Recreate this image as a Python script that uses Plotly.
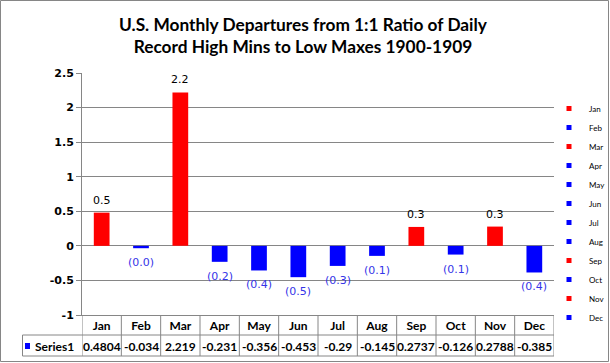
import plotly.graph_objects as go

months = ["Jan", "Feb", "Mar", "Apr", "May", "Jun", "Jul", "Aug", "Sep", "Oct", "Nov", "Dec"]
values = [0.4804, -0.034, 2.219, -0.231, -0.356, -0.453, -0.29, -0.145, 0.2737, -0.126, 0.2788, -0.385]
series_name = "Series1"
title_lines = ["U.S. Monthly Departures from 1:1 Ratio of Daily",
               "Record High Mins to Low Maxes 1900-1909"]
y_ticks = [-1, -0.5, 0, 0.5, 1, 1.5, 2, 2.5]
y_tick_text = ["-1", "-0.5", "0", "0.5", "1", "1.5", "2", "2.5"]

RED = "#FF0000"
BLUE = "#0000FF"
GRID = "#868686"
LABEL_FONT = "DejaVu Sans"
CAL = "Lato"

W, H = 610, 363
L, R, T, B = 82, 554, 73, 315


def xp(px):
    return (px - L) / (R - L)


def yp(py):
    return (B - py) / (B - T)


colors = [RED if v >= 0 else BLUE for v in values]

fig = go.Figure()
fig.add_trace(go.Bar(
    x=months, y=values, marker=dict(color=colors, line=dict(width=0)),
    showlegend=False, hoverinfo="x+y",
))

# legend entries (one per month)
for m, c in zip(months, colors):
    fig.add_trace(go.Scatter(
        x=[m], y=[None], mode="markers", name=m,
        marker=dict(symbol="square", size=5, color=c),
    ))

annotations = []
# data labels
for m, v in zip(months, values):
    if v >= 0:
        annotations.append(dict(
            x=m, y=v, xref="x", yref="y", text=f"{v:.1f}", showarrow=False,
            yanchor="bottom", yshift=4,
            font=dict(family=LABEL_FONT, size=11, color="#000000")))
    else:
        annotations.append(dict(
            x=m, y=v, xref="x", yref="y", text=f"({abs(v):.1f})", showarrow=False,
            yanchor="top", yshift=-6,
            font=dict(family=LABEL_FONT, size=11, color="#3535E8")))

# table values row
for m, v in zip(months, values):
    annotations.append(dict(
        x=m, y=yp(346), xref="x", yref="paper", text=f"<b>{v}</b>", showarrow=False,
        yanchor="middle", xanchor="center",
        font=dict(family=CAL, size=12, color="#000000")))

# series label cell
annotations.append(dict(
    x=xp(33), y=yp(346), xref="paper", yref="paper", text=f"<b>{series_name}</b>",
    showarrow=False, xanchor="left", yanchor="middle",
    font=dict(family=CAL, size=12, color="#000000")))

# title
annotations.append(dict(
    x=xp(303), y=yp(36), xref="paper", yref="paper",
    text="<b>" + "<br>".join(title_lines) + "</b>",
    showarrow=False, xanchor="center", yanchor="middle",
    font=dict(family=CAL, size=17.3, color="#000000")))

shapes = []
# table vertical lines at category boundaries
for i in range(len(months) + 1):
    shapes.append(dict(type="line", xref="x", yref="paper",
                       x0=i - 0.5, x1=i - 0.5, y0=yp(315), y1=yp(356),
                       line=dict(color=GRID, width=1)))
# left cell border
shapes.append(dict(type="line", xref="paper", yref="paper",
                   x0=xp(22.5), x1=xp(22.5), y0=yp(335), y1=yp(356),
                   line=dict(color=GRID, width=1)))
# horizontal table lines
for py in (335, 356):
    shapes.append(dict(type="line", xref="paper", yref="paper",
                       x0=xp(22.5), x1=1, y0=yp(py), y1=yp(py),
                       line=dict(color=GRID, width=1)))
# series key square
shapes.append(dict(type="rect", xref="paper", yref="paper",
                   x0=xp(25), x1=xp(30), y0=yp(343), y1=yp(349),
                   fillcolor=BLUE, line=dict(width=0)))
# outer chart border
shapes.append(dict(type="rect", xref="paper", yref="paper",
                   x0=xp(0.5), x1=xp(608.5), y0=yp(361.5), y1=yp(0.5),
                   line=dict(color="#868686", width=1)))

fig.update_layout(
    width=W, height=H,
    margin=dict(l=L, r=W - R, t=T, b=H - B, pad=0, autoexpand=False),
    paper_bgcolor="white", plot_bgcolor="white",
    barmode="overlay", bargap=0.6,
    font=dict(family=LABEL_FONT, color="#000000"),
    xaxis=dict(
        type="category", categoryorder="array", categoryarray=months,
        range=[-0.5, len(months) - 0.5],
        showgrid=False, zeroline=False, showline=True, linecolor=GRID,
        ticks="", tickfont=dict(family=CAL, size=12, color="#000000"),
        tickprefix="<b>", ticksuffix="</b>",
    ),
    yaxis=dict(
        range=[-1, 2.5], tickvals=y_ticks, ticktext=[f"<b>{t}</b>" for t in y_tick_text],
        showgrid=True, gridcolor=GRID, gridwidth=1,
        zeroline=True, zerolinecolor=GRID, zerolinewidth=1,
        showline=True, linecolor=GRID, linewidth=1,
        ticks="outside", ticklen=5, tickcolor=GRID,
        tickfont=dict(family=LABEL_FONT, size=11, color="#000000"),
    ),
    legend=dict(
        x=xp(549), y=yp(94), xanchor="left", yanchor="top",
        font=dict(family=CAL, size=8, color="#000000"),
        bgcolor="rgba(0,0,0,0)", tracegroupgap=0, itemwidth=30,
    ),
    annotations=annotations, shapes=shapes,
)

fig.write_html("out.html", post_script="document.body.style.margin='0';",
               config={"displayModeBar": False})
